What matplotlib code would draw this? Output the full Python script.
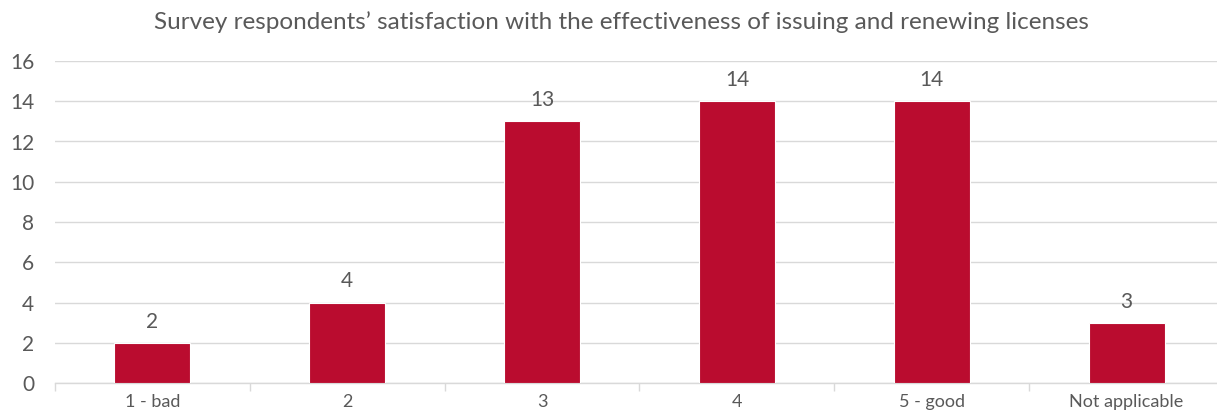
import matplotlib
matplotlib.use("Agg")
import matplotlib.pyplot as plt

categories = ["1 - bad", "2", "3", "4", "5 - good", "Not applicable"]
counts = [2, 4, 13, 14, 14, 3]
y_ticks = [0, 2, 4, 6, 8, 10, 12, 14, 16]

title = "Survey respondents\u2019 satisfaction with the effectiveness of issuing and renewing licenses"

bar_color = "#BA0C2F"
text_color = "#595959"
grid_color = "#D9D9D9"

plt.rcParams["font.family"] = ["Lato", "DejaVu Sans"]

fig = plt.figure(figsize=(12.17, 4.19), dpi=100)
ax = fig.add_axes([55 / 1217, 36 / 419, 1169 / 1217, 322 / 419])

x = list(range(len(categories)))
bars = ax.bar(x, counts, width=0.39, color=bar_color, edgecolor="white",
              linewidth=0.8, zorder=3)

for rect, v in zip(bars, counts):
    ax.text(rect.get_x() + rect.get_width() / 2, v + 0.55, str(v),
            ha="center", va="bottom", fontsize=15, color=text_color, zorder=4)

ax.set_xlim(-0.5, len(categories) - 0.5)
ax.set_ylim(0, 16)
ax.set_yticks(y_ticks)
ax.set_yticklabels([str(t) for t in y_ticks], fontsize=15, color=text_color)
ax.yaxis.grid(True, color=grid_color, linewidth=1, zorder=0)
ax.tick_params(axis="y", length=0, pad=15)

# category labels centred under bars, tick marks at category boundaries
ax.set_xticks(x)
ax.set_xticklabels(categories, fontsize=13, color=text_color)
ax.tick_params(axis="x", which="major", length=0, pad=8)
ax.set_xticks([i - 0.5 for i in range(len(categories) + 1)], minor=True)
ax.tick_params(axis="x", which="minor", length=6, color=grid_color, width=1)

for side in ("top", "right", "left"):
    ax.spines[side].set_visible(False)
ax.spines["bottom"].set_color(grid_color)
ax.spines["bottom"].set_linewidth(1)

fig.text(621 / 1217, 1 - 22 / 419, title, ha="center", va="center",
         fontsize=17.5, color=text_color)

fig.savefig("out.png", dpi=100, facecolor="white")
